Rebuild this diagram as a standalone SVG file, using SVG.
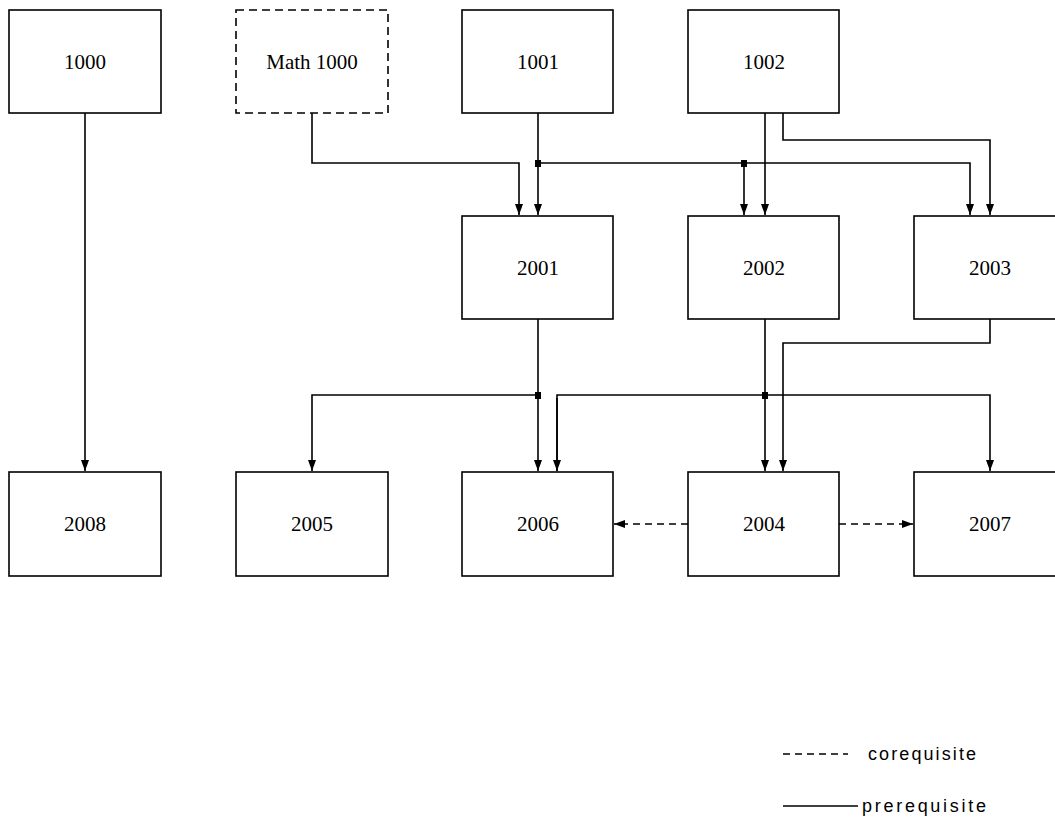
<svg xmlns="http://www.w3.org/2000/svg" width="1055" height="823" viewBox="0 0 1055 823">
<style>
.box{fill:#fff;stroke:#000;stroke-width:1.6}
.dbox{fill:#fff;stroke:#000;stroke-width:1.6;stroke-dasharray:8 5}
.lbl{font-family:"Liberation Serif",serif;font-size:21px;fill:#000;text-anchor:middle;dominant-baseline:central}
.leg{font-family:"Liberation Sans",sans-serif;font-size:18px;fill:#000}
.ln{fill:none;stroke:#000;stroke-width:1.6}
.dl{fill:none;stroke:#000;stroke-width:1.6;stroke-dasharray:7 5}
</style>
<defs>
<marker id="ah" markerWidth="11" markerHeight="8" refX="11" refY="4" orient="auto" markerUnits="userSpaceOnUse">
<path d="M0,0 L11,4 L0,8 Z" fill="#000"/>
</marker>
</defs>
<rect width="1055" height="823" fill="#fff"/>
<g id="n1000"><rect class="box" x="9" y="10" width="152" height="103"/><text class="lbl" x="85" y="62">1000</text></g>
<g id="nMath1000"><rect class="dbox" x="236" y="10" width="152" height="103"/><text class="lbl" x="312" y="62">Math 1000</text></g>
<g id="n1001"><rect class="box" x="462" y="10" width="151" height="103"/><text class="lbl" x="538" y="62">1001</text></g>
<g id="n1002"><rect class="box" x="688" y="10" width="151" height="103"/><text class="lbl" x="764" y="62">1002</text></g>
<g id="n2001"><rect class="box" x="462" y="216" width="151" height="103"/><text class="lbl" x="538" y="268">2001</text></g>
<g id="n2002"><rect class="box" x="688" y="216" width="151" height="103"/><text class="lbl" x="764" y="268">2002</text></g>
<g id="n2003"><rect class="box" x="914" y="216" width="152" height="103"/><text class="lbl" x="990" y="268">2003</text></g>
<g id="n2008"><rect class="box" x="9" y="472" width="152" height="104"/><text class="lbl" x="85" y="524">2008</text></g>
<g id="n2005"><rect class="box" x="236" y="472" width="152" height="104"/><text class="lbl" x="312" y="524">2005</text></g>
<g id="n2006"><rect class="box" x="462" y="472" width="151" height="104"/><text class="lbl" x="538" y="524">2006</text></g>
<g id="n2004"><rect class="box" x="688" y="472" width="151" height="104"/><text class="lbl" x="764" y="524">2004</text></g>
<g id="n2007"><rect class="box" x="914" y="472" width="152" height="104"/><text class="lbl" x="990" y="524">2007</text></g>
<g id="connectors">
<path class="ln" d="M85,113 V471" marker-end="url(#ah)"/>
<path class="ln" d="M312,113 V163 H519 V215" marker-end="url(#ah)"/>
<path class="ln" d="M538,113 V215" marker-end="url(#ah)"/>
<path class="ln" d="M538,163 H970 V215" marker-end="url(#ah)"/>
<path class="ln" d="M744,163 V215" marker-end="url(#ah)"/>
<path class="ln" d="M765,113 V215" marker-end="url(#ah)"/>
<path class="ln" d="M783,113 V140 H990 V215" marker-end="url(#ah)"/>
<path class="ln" d="M538,319 V471" marker-end="url(#ah)"/>
<path class="ln" d="M538,395 H312 V471" marker-end="url(#ah)"/>
<path class="ln" d="M765,319 V471" marker-end="url(#ah)"/>
<path class="ln" d="M557,471 V395 H990 V471" marker-end="url(#ah)"/>
<path class="ln" d="M557,398 V471" marker-end="url(#ah)"/>
<path class="ln" d="M990,319 V343 H783 V471" marker-end="url(#ah)"/>
<rect x="535" y="160" width="6" height="7" fill="#000"/>
<rect x="741" y="160" width="6" height="7" fill="#000"/>
<rect x="535" y="392" width="6" height="7" fill="#000"/>
<rect x="762" y="392" width="6" height="7" fill="#000"/>
<path class="dl" d="M688,524 H614" marker-end="url(#ah)"/>
<path class="dl" d="M839,524 H913" marker-end="url(#ah)"/>
</g>
<g id="legend">
<path class="dl" d="M783,754 H848"/>
<text class="leg" x="868" y="760" textLength="108" lengthAdjust="spacing">corequisite</text>
<path class="ln" d="M783,806 H858"/>
<text class="leg" x="862" y="812" textLength="124" lengthAdjust="spacing">prerequisite</text>
</g>
</svg>
